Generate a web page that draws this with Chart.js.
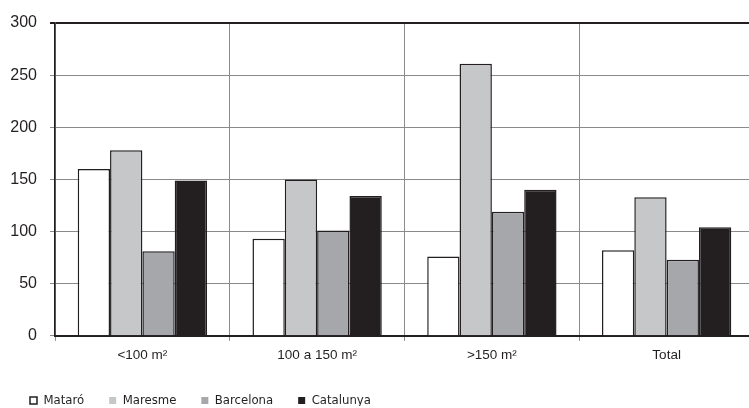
<!DOCTYPE html>
<html>
<head>
<meta charset="utf-8">
<script src="https://cdn.jsdelivr.net/npm/chart.js@4/dist/chart.umd.min.js"></script>
<style>
  html, body { margin: 0; padding: 0; background: #fff; overflow: hidden; }
  #wrap { width: 760px; height: 408px; }
</style>
</head>
<body>
<div id="wrap"><canvas id="c" width="760" height="408"></canvas></div>
<script>
const categories = ['<100 m²', '100 a 150 m²', '>150 m²', 'Total'];
const seriesNames = ['Mataró', 'Maresme', 'Barcelona', 'Catalunya'];
const mataro    = [160, 93, 76, 82];
const maresme   = [178, 150, 261, 133];
const barcelona = [81, 101, 119, 73];
const catalunya = [149, 134, 140, 104];
const yTicks = [0, 50, 100, 150, 200, 250, 300];

const fills = ['#ffffff', '#c6c7c9', '#a6a7aa', '#231f20'];
const dark = '#231f20';
const values = [mataro, maresme, barcelona, catalunya];

const datasets = seriesNames.map((name, i) => ({
  label: name,
  data: values[i],
  backgroundColor: fills[i],
  borderColor: dark,
  borderWidth: 1.5,
  barPercentage: 1.0,
  categoryPercentage: 0.74
}));

new Chart(document.getElementById('c'), {
  type: 'bar',
  data: { labels: categories, datasets },
  options: {
    responsive: false,
    animation: false,
    devicePixelRatio: 1,
    layout: { padding: { left: 5, right: 6, top: 23, bottom: 2 } },
    plugins: {
      tooltip: { enabled: false },
      legend: {
        position: 'bottom',
        align: 'start',
        maxHeight: 37,
        labels: {
          boxWidth: 7,
          boxHeight: 7,
          padding: 25,
          color: dark,
          font: { family: '"DejaVu Sans Condensed", "Liberation Sans", Arial, sans-serif', size: 13, lineHeight: 1.2 },
          generateLabels: (chart) => chart.data.datasets.map((ds, i) => ({
            text: ds.label,
            fillStyle: fills[i],
            strokeStyle: i === 0 ? dark : fills[i],
            lineWidth: i === 0 ? 1.5 : 0,
            fontColor: dark,
            hidden: false,
            datasetIndex: i
          }))
        }
      }
    },
    scales: {
      x: {
        grid: {
          offset: true,
          color: '#8a8a8a',
          lineWidth: 1,
          tickLength: 5,
          drawTicks: true
        },
        border: { display: true, color: dark, width: 2 },
        ticks: {
          color: dark,
          padding: 6,
          font: { family: '"Liberation Sans", Arial, sans-serif', size: 13.5 }
        }
      },
      y: {
        min: 0,
        max: 300,
        afterBuildTicks: (scale) => { scale.ticks = yTicks.map(v => ({ value: v })); },
        afterFit: (scale) => { scale.width = 50; },
        grid: {
          color: (ctx) => (ctx.tick && ctx.tick.value === 300) ? dark : '#8a8a8a',
          lineWidth: (ctx) => (ctx.tick && ctx.tick.value === 300) ? 2 : 1,
          tickLength: 5
        },
        border: { display: true, color: dark, width: 1.5 },
        ticks: {
          color: dark,
          padding: 13,
          font: { family: '"Liberation Sans", Arial, sans-serif', size: 16 }
        }
      }
    }
  }
});
</script>
</body>
</html>
